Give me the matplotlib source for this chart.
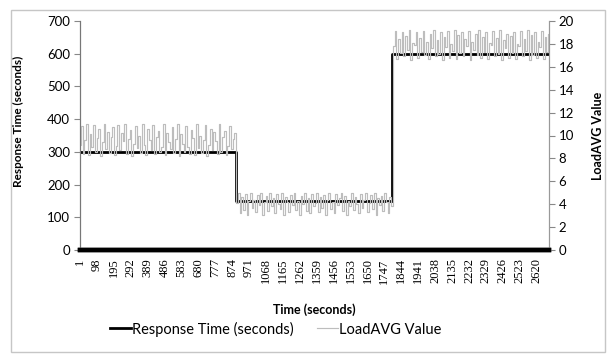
import numpy as np
import matplotlib
matplotlib.use("Agg")
import matplotlib.pyplot as plt
from matplotlib.patches import Rectangle

plt.rcParams["font.family"] = ["Lato", "DejaVu Sans"]

# response time per test phase (seconds), step changes at phase starts
phase_start = [1, 895, 1790, 2691]
response_time = [300, 150, 600, 600]

# load average samples, one every 10 seconds
load_phase1 = [
    9.2, 10.8, 8.4, 9.6, 11.0, 8.3, 10.1, 9.0, 10.9, 8.6,
    9.8, 10.6, 8.2, 9.4, 11.0, 8.8, 10.3, 8.5, 9.9, 10.7,
    8.3, 9.1, 10.9, 8.7, 10.2, 9.5, 11.0, 8.4, 9.7, 10.5,
    8.2, 9.3, 10.8, 8.9, 10.0, 8.5, 11.0, 9.2, 8.3, 10.6,
    9.6, 8.7, 10.9, 8.4, 9.9, 10.4, 8.6, 9.0, 11.0, 8.3,
    10.2, 9.4, 8.8, 10.7, 8.5, 9.7, 11.0, 8.2, 10.1, 9.3,
    8.6, 10.8, 9.0, 8.4, 10.5, 9.8, 8.3, 11.0, 8.9, 10.0,
    8.5, 9.6, 10.9, 8.2, 9.2, 10.6, 8.7, 10.3, 9.5, 8.4,
    11.0, 8.6, 9.9, 10.4, 8.3, 9.1, 10.8, 8.8, 9.7, 10.2,
]
load_phase2 = [
    4.1, 5.0, 3.2, 4.6, 3.5, 4.9, 3.1, 4.3, 5.0, 3.7,
    4.4, 3.3, 4.8, 3.9, 5.0, 3.1, 4.2, 4.7, 3.4, 5.0,
    3.8, 4.5, 3.2, 4.9, 4.0, 3.6, 5.0, 3.1, 4.6, 4.2,
    3.3, 4.8, 3.9, 5.0, 3.5, 4.3, 3.1, 4.7, 4.0, 5.0,
    3.4, 4.5, 3.2, 4.9, 3.8, 4.1, 5.0, 3.3, 4.6, 3.7,
    4.8, 3.1, 4.4, 5.0, 3.6, 4.2, 3.2, 4.9, 3.9, 4.5,
    5.0, 3.4, 4.7, 3.1, 4.3, 3.8, 5.0, 3.5, 4.6, 4.0,
    3.2, 4.9, 3.7, 4.4, 5.0, 3.3, 4.1, 4.8, 3.6, 5.0,
    3.1, 4.5, 3.9, 4.7, 3.4, 5.0, 4.2, 3.2, 4.6, 3.8,
]
load_phase3 = [
    17.8, 19.1, 16.7, 18.4, 17.2, 19.0, 16.9, 18.7, 17.5, 19.2,
    16.6, 18.1, 17.9, 19.0, 16.8, 18.5, 17.3, 19.1, 17.0, 18.2,
    16.7, 18.9, 17.6, 19.2, 16.9, 18.3, 17.1, 19.0, 16.6, 18.6,
    17.7, 19.1, 16.8, 18.0, 17.4, 19.2, 16.7, 18.8, 17.2, 19.0,
    16.9, 18.4, 17.8, 19.1, 16.6, 18.2, 17.5, 18.9, 17.0, 19.2,
    16.8, 18.6, 17.3, 19.0, 16.7, 18.1, 17.9, 19.1, 16.9, 18.5,
    17.1, 19.2, 16.6, 18.3, 17.6, 18.9, 16.8, 18.7, 17.2, 19.0,
    16.7, 18.0, 17.8, 19.1, 16.9, 18.4, 17.4, 19.2, 16.6, 18.8,
    17.0, 19.0, 16.8, 18.2, 17.7, 19.1, 16.7, 18.6, 17.3, 18.9,
]
load_avg = load_phase1 + load_phase2 + load_phase3
load_time = 1 + 10 * np.arange(len(load_avg))

x_ticks = np.arange(1, 2700, 97)

fig = plt.figure(figsize=(6.07, 3.54), dpi=100)
ax = fig.add_axes([80 / 607, 104 / 354, 469 / 607, 229 / 354])
ax2 = ax.twinx()

# outer chart frame
fig.patches.append(Rectangle((11 / 607, 2 / 354), 594 / 607, 342 / 354,
                             transform=fig.transFigure, fill=False,
                             edgecolor="#c6c6c6", linewidth=1))

ax.step(phase_start, response_time, where="post", color="black",
        linewidth=2.0, label="Response Time (seconds)", zorder=2)
ax2.plot(load_time, load_avg, color="#bdbdbd", linewidth=0.85,
         drawstyle="steps-mid", label="LoadAVG Value")

ax.set_xlim(1, 2691)
ax.set_ylim(0, 700)
ax2.set_ylim(0, 20)
ax.set_yticks(range(0, 701, 100))
ax2.set_yticks(range(0, 21, 2))
ax.set_xticks(x_ticks)
ax.set_xticklabels([str(t) for t in x_ticks], rotation=90,
                   family="Liberation Serif", fontsize=9)
ax.tick_params(axis="x", length=0, pad=6)
ax.tick_params(axis="y", labelsize=9.5, length=4, color="#888888", pad=3)
ax2.tick_params(axis="y", labelsize=9.5, length=4, color="#888888", pad=3)

for a in (ax, ax2):
    a.spines["top"].set_visible(False)
    a.spines["left"].set_color("#777777")
    a.spines["right"].set_color("#999999")
    a.spines["bottom"].set_linewidth(3.2)
    a.spines["bottom"].set_color("black")

ax.set_xlabel("Time (seconds)", fontsize=9, fontweight="bold")
ax.set_ylabel("Response Time (seconds)", fontsize=8.5, fontweight="bold")
ax2.set_ylabel("LoadAVG Value", fontsize=9, fontweight="bold")
ax.xaxis.set_label_coords(0.5, -0.231)
ax.yaxis.set_label_coords(-0.12, 0.563)
ax2.yaxis.set_label_coords(1.092, 0.5)

h1, l1 = ax.get_legend_handles_labels()
h2, l2 = ax2.get_legend_handles_labels()
fig.legend(h1 + h2, l1 + l2, loc="center", bbox_to_anchor=(276 / 607, 25 / 354),
           ncol=2, frameon=False, fontsize=10.5, handlelength=1.4,
           handletextpad=0.1, columnspacing=1.6)

fig.savefig("out.png", dpi=100)
